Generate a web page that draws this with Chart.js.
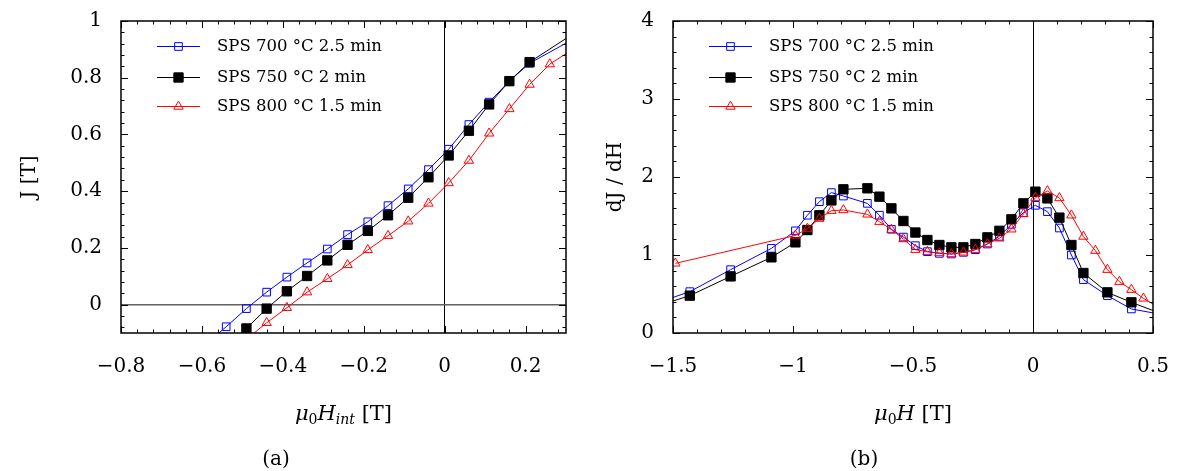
<!DOCTYPE html>
<html><head><meta charset="utf-8">
<script src="https://cdn.jsdelivr.net/npm/chart.js@4.4.0/dist/chart.umd.min.js"></script>
<style>
html,body{margin:0;padding:0;background:#fff;}
#wrap{position:relative;width:1181px;height:471px;overflow:hidden;background:#fff;}
.pane{position:absolute;top:0;height:471px;}
</style></head><body>
<div id="wrap">
<div class="pane" style="left:0;width:590px"><canvas id="ca" width="590" height="471"></canvas></div>
<div class="pane" style="left:590px;width:591px"><canvas id="cb" width="591" height="471"></canvas></div>
</div>
<script>
// ---------- labels ----------
const seriesLabels = ['SPS 700 °C 2.5 min', 'SPS 750 °C 2 min', 'SPS 800 °C 1.5 min'];

// ---------- panel (a): J vs mu0 H_int ----------
const xA700 = [-0.64,-0.54,-0.49,-0.44,-0.39,-0.34,-0.29,-0.24,-0.19,-0.14,-0.09,-0.04,0.01,0.06,0.11,0.16,0.21,0.36];
const yA700 = [-0.20,-0.078,-0.014,0.044,0.097,0.147,0.196,0.247,0.292,0.349,0.408,0.476,0.548,0.635,0.714,0.788,0.851,0.969];
const xA750 = [-0.54,-0.49,-0.44,-0.39,-0.34,-0.29,-0.24,-0.19,-0.14,-0.09,-0.04,0.01,0.06,0.11,0.16,0.21,0.36];
const yA750 = [-0.15,-0.084,-0.014,0.047,0.101,0.156,0.211,0.26,0.315,0.377,0.449,0.526,0.613,0.706,0.788,0.855,0.994];
const xA800 = [-0.54,-0.44,-0.39,-0.34,-0.29,-0.24,-0.19,-0.14,-0.09,-0.04,0.01,0.06,0.11,0.16,0.21,0.26,0.36];
const yA800 = [-0.18,-0.064,-0.011,0.044,0.091,0.140,0.193,0.243,0.294,0.357,0.429,0.508,0.604,0.690,0.776,0.848,0.94];
const xTicksA = [-0.8,-0.6,-0.4,-0.2,0,0.2];
const yTicksA = [0,0.2,0.4,0.6,0.8,1];

// ---------- panel (b): dJ/dH vs mu0 H ----------
const xB700 = [-1.6,-1.43,-1.26,-1.09,-0.99,-0.94,-0.89,-0.84,-0.79,-0.69,-0.64,-0.59,-0.54,-0.49,-0.44,-0.39,-0.34,-0.29,-0.24,-0.19,-0.14,-0.09,-0.04,0.01,0.06,0.11,0.16,0.21,0.31,0.41,0.55];
const yB700 = [0.35,0.53,0.812,1.085,1.31,1.51,1.684,1.80,1.756,1.662,1.51,1.33,1.23,1.12,1.043,1.021,1.013,1.034,1.068,1.141,1.239,1.393,1.543,1.637,1.556,1.346,1.0,0.684,0.479,0.308,0.23];
const xB750 = [-1.6,-1.43,-1.26,-1.09,-0.99,-0.94,-0.89,-0.84,-0.79,-0.69,-0.64,-0.59,-0.54,-0.49,-0.44,-0.39,-0.34,-0.29,-0.24,-0.19,-0.14,-0.09,-0.04,0.01,0.06,0.11,0.16,0.21,0.31,0.41,0.55];
const yB750 = [0.31,0.479,0.726,0.970,1.162,1.32,1.509,1.70,1.842,1.855,1.748,1.598,1.436,1.288,1.192,1.128,1.098,1.098,1.141,1.226,1.31,1.457,1.662,1.812,1.726,1.479,1.128,0.769,0.521,0.393,0.23];
const xB800 = [-1.49,-0.99,-0.94,-0.89,-0.84,-0.79,-0.69,-0.64,-0.59,-0.54,-0.49,-0.44,-0.39,-0.34,-0.29,-0.24,-0.19,-0.14,-0.09,-0.04,0.01,0.06,0.11,0.16,0.21,0.26,0.31,0.36,0.41,0.46,0.55];
const yB800 = [0.893,1.25,1.338,1.466,1.568,1.577,1.521,1.427,1.325,1.205,1.068,1.043,1.026,1.013,1.034,1.068,1.141,1.214,1.33,1.526,1.735,1.82,1.731,1.509,1.237,1.056,0.812,0.658,0.556,0.444,0.28];
const xTicksB = [-1.5,-1,-0.5,0,0.5];
const yTicksB = [0,1,2,3,4];

// ---------- styling ----------
const FONT = "'DejaVu Serif', serif";
const styles = [
  {color:'#0000ff', fill:'rgba(0,0,0,0)', shape:'rect', r:5.4, order:3},
  {color:'#000000', fill:'#000000', shape:'rect', r:6.6, order:2},
  {color:'#ff0000', fill:'rgba(0,0,0,0)', shape:'triangle', r:5.4, order:1}
];
const fmt = v => v < 0 ? '\u2212' + String(Math.abs(v)) : String(v);

function drawRuns(ctx, runs, cx, baseY) {
  let w = 0;
  runs.forEach(r => { ctx.font = (r.it ? 'italic ' : '') + r.size + 'px ' + FONT; r.w = ctx.measureText(r.t).width; w += r.w; });
  let x = cx - w / 2;
  ctx.textAlign = 'left'; ctx.textBaseline = 'alphabetic';
  runs.forEach(r => { ctx.font = (r.it ? 'italic ' : '') + r.size + 'px ' + FONT; ctx.fillText(r.t, x, baseY + (r.dy || 0)); x += r.w; });
}

const deco = {
  id: 'deco',
  afterDraw(chart, args, o) {
    const {ctx, chartArea: a, scales: {x, y}} = chart;
    ctx.save();
    // inward ticks on all four sides
    const near = (v, arr) => arr.some(t => Math.abs(t - v) < 1e-6);
    const steps = (min, max, st) => { const r = []; for (let k = Math.ceil(min / st - 1e-6); k * st <= max + 1e-6; k++) r.push(+(k * st).toFixed(6)); return r; };
    ctx.strokeStyle = '#000'; ctx.lineWidth = 1;
    ctx.beginPath();
    steps(x.min, x.max, o.xMinor).forEach(v => {
      const L = near(v, o.xMajor) ? 7 : 3.5; const p = Math.round(x.getPixelForValue(v)) + 0.5;
      ctx.moveTo(p, a.bottom); ctx.lineTo(p, a.bottom - L); ctx.moveTo(p, a.top); ctx.lineTo(p, a.top + L);
    });
    steps(y.min, y.max, o.yMinor).forEach(v => {
      const L = near(v, o.yMajor) ? 7 : 3.5; const p = Math.round(y.getPixelForValue(v)) + 0.5;
      ctx.moveTo(a.left, p); ctx.lineTo(a.left + L, p); ctx.moveTo(a.right, p); ctx.lineTo(a.right - L, p);
    });
    ctx.stroke();
    ctx.lineWidth = 1.5;
    ctx.strokeRect(a.left, a.top, a.right - a.left, a.bottom - a.top);

    // legend (inside plot, top-left)
    chart.data.datasets.forEach((ds, i) => {
      const ry = o.leg.rows[i];
      ctx.strokeStyle = ds.borderColor; ctx.lineWidth = 1;
      ctx.beginPath(); ctx.moveTo(o.leg.x0, ry + 0.5); ctx.lineTo(o.leg.x1, ry + 0.5); ctx.stroke();
      ctx.fillStyle = ds.pointBackgroundColor; ctx.strokeStyle = ds.pointBorderColor;
      Chart.helpers.drawPoint(ctx, {pointStyle: ds.pointStyle, radius: ds.pointRadius, borderWidth: 1, rotation: 0}, (o.leg.x0 + o.leg.x1) / 2, ry + 0.5);
      ctx.fillStyle = '#000'; ctx.font = '16.5px ' + FONT; ctx.textAlign = 'left'; ctx.textBaseline = 'middle';
      ctx.fillText(ds.label, o.leg.tx, ry + 1);
    });

    // axis titles
    ctx.fillStyle = '#000';
    ctx.save();
    ctx.translate(o.yTitleX, (a.top + a.bottom) / 2); ctx.rotate(-Math.PI / 2);
    ctx.font = '20px ' + FONT; ctx.textAlign = 'center'; ctx.textBaseline = 'middle';
    ctx.fillText(o.yTitle, 0, 0);
    ctx.restore();
    drawRuns(ctx, o.xTitle, (a.left + a.right) / 2, 420);
    // caption
    ctx.font = '20px ' + FONT; ctx.textAlign = 'center'; ctx.textBaseline = 'middle';
    ctx.fillText(o.caption, o.capX, 460);
    ctx.restore();
  }
};

function makeChart(id, c) {
  const sets = c.series.map((s, i) => ({
    label: seriesLabels[i],
    data: s.x.map((xv, k) => ({x: xv, y: s.y[k]})),
    borderColor: styles[i].color, backgroundColor: styles[i].color,
    pointStyle: styles[i].shape, pointRadius: styles[i].r, pointHoverRadius: styles[i].r,
    pointBorderColor: styles[i].color, pointBackgroundColor: styles[i].fill, pointBorderWidth: 1,
    borderWidth: 1, tension: 0, fill: false, order: styles[i].order
  }));
  return new Chart(document.getElementById(id), {
    type: 'line',
    data: {datasets: sets},
    options: {
      responsive: false, animation: false, devicePixelRatio: 1,
      layout: {padding: {left: 0, top: 21, right: c.right, bottom: 0}},
      plugins: {legend: {display: false}, tooltip: {enabled: false}, deco: c.deco},
      scales: {
        x: {
          type: 'linear', min: c.xmin, max: c.xmax,
          afterBuildTicks: s => { s.ticks = c.xTicks.map(v => ({value: v})); },
          afterFit: s => { s.height = 138; s.paddingLeft = 0; s.paddingRight = 0; },
          grid: {drawTicks: false, lineWidth: 1, color: ctx => (ctx.tick && ctx.tick.value === 0) ? '#000' : 'rgba(0,0,0,0)'},
          border: {display: false},
          ticks: {padding: 22, color: '#000', font: {family: FONT, size: 20}, maxRotation: 0, autoSkip: false, callback: v => fmt(v)}
        },
        y: {
          type: 'linear', min: c.ymin, max: c.ymax,
          afterBuildTicks: s => { s.ticks = c.yTicks.map(v => ({value: v})); },
          afterFit: s => { s.width = c.yw; s.paddingTop = 0; s.paddingBottom = 0; },
          grid: {drawTicks: false, lineWidth: c.zeroY ? 1.6 : 0, color: ctx => (c.zeroY && ctx.tick && ctx.tick.value === 0) ? '#606060' : 'rgba(0,0,0,0)'},
          border: {display: false},
          ticks: {padding: 19, color: '#000', font: {family: FONT, size: 20}, autoSkip: false, callback: v => fmt(v)}
        }
      }
    },
    plugins: [deco]
  });
}

makeChart('ca', {
  series: [{x: xA700, y: yA700}, {x: xA750, y: yA750}, {x: xA800, y: yA800}],
  xmin: -0.8, xmax: 0.3, ymin: -0.1, ymax: 1, xTicks: xTicksA, yTicks: yTicksA,
  yw: 121, right: 24, zeroY: true,
  deco: {
    xMinor: 0.04, yMinor: 0.04, xMajor: xTicksA, yMajor: yTicksA,
    leg: {x0: 157, x1: 200, tx: 217, rows: [46, 77, 106]},
    yTitle: 'J [T]', yTitleX: 30,
    xTitle: [{t: 'μ', it: true, size: 21}, {t: '0', size: 14, dy: 4}, {t: 'H', it: true, size: 21}, {t: 'int', it: true, size: 14, dy: 4}, {t: ' [T]', size: 21}],
    caption: '(a)', capX: 276
  }
});

makeChart('cb', {
  series: [{x: xB700, y: yB700}, {x: xB750, y: yB750}, {x: xB800, y: yB800}],
  xmin: -1.5, xmax: 0.5, ymin: 0, ymax: 4, xTicks: xTicksB, yTicks: yTicksB,
  yw: 83, right: 28, zeroY: false,
  deco: {
    xMinor: 0.1, yMinor: 0.2, xMajor: xTicksB, yMajor: yTicksB,
    leg: {x0: 119, x1: 162, tx: 179, rows: [46, 77, 106]},
    yTitle: 'dJ / dH', yTitleX: 26,
    xTitle: [{t: 'μ', it: true, size: 21}, {t: '0', size: 14, dy: 4}, {t: 'H', it: true, size: 21}, {t: ' [T]', size: 21}],
    caption: '(b)', capX: 274
  }
});
</script>
</body></html>
